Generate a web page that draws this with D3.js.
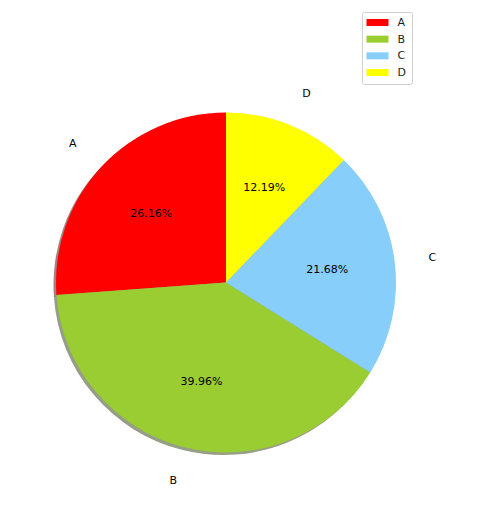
<!DOCTYPE html>
<html>
<head>
<meta charset="utf-8">
<script src="https://cdn.jsdelivr.net/npm/d3@7"></script>
<style>
  html, body { margin: 0; padding: 0; background: #fff; }
  svg { display: block; font-family: "DejaVu Sans", sans-serif; }
</style>
</head>
<body>
<svg id="chart" width="500" height="514"></svg>
<script>
const categories = ["A", "B", "C", "D"];
const values = [26.16, 39.96, 21.68, 12.19];
const colors = ["#ff0000", "#9acd32", "#87cefa", "#ffff00"];

const W = 500, H = 514;
const cx = 226, cy = 282.5, R = 170;
const svg = d3.select("#chart");

const data = categories.map((c, i) => ({ cat: c, value: values[i], color: colors[i] }));
const pie = d3.pie().value(d => d.value).sort(null).startAngle(0).endAngle(-2 * Math.PI);
const arcs = pie(data);
const arc = d3.arc().innerRadius(0).outerRadius(R);
const total = d3.sum(values);

const g = svg.append("g").attr("transform", `translate(${cx},${cy})`);

// shadows (drawn beneath all wedges)
g.append("g").attr("transform", "translate(-2.5,2.5)")
  .selectAll("path").data(arcs).join("path")
  .attr("d", arc)
  .attr("fill", d => { const c = d3.rgb(d.data.color); return d3.rgb(c.r * 0.3, c.g * 0.3, c.b * 0.3).toString(); })
  .attr("opacity", 0.5);

g.append("g").selectAll("path").data(arcs).join("path")
  .attr("d", arc)
  .attr("fill", d => d.data.color);

function pos(d, r) {
  const a = (d.startAngle + d.endAngle) / 2;
  return [r * Math.sin(a), -r * Math.cos(a)];
}

// outer labels
g.append("g").selectAll("text").data(arcs).join("text")
  .attr("x", d => pos(d, R * 1.2)[0])
  .attr("y", d => pos(d, R * 1.2)[1])
  .attr("text-anchor", d => pos(d, 1)[0] > 0 ? "start" : "end")
  .attr("dominant-baseline", "central")
  .attr("font-size", 11)
  .attr("fill", "#000")
  .text(d => d.data.cat);

// percentage labels
g.append("g").selectAll("text").data(arcs).join("text")
  .attr("x", d => pos(d, R * 0.6)[0])
  .attr("y", d => pos(d, R * 0.6)[1])
  .attr("text-anchor", "middle")
  .attr("dominant-baseline", "central")
  .attr("font-size", 11)
  .attr("fill", "#000")
  .text(d => (d.data.value / total * 100).toFixed(2) + "%");

// legend
const lg = svg.append("g").attr("transform", "translate(362.5,12.5)");
lg.append("rect").attr("width", 50).attr("height", 72).attr("rx", 2)
  .attr("fill", "#fff").attr("fill-opacity", 0.8).attr("stroke", "#d0d0d0").attr("stroke-width", 1);
const rowY = d3.scalePoint().domain(categories).range([10, 60]);
const items = lg.selectAll("g.item").data(data).join("g").attr("class", "item")
  .attr("transform", d => `translate(0,${rowY(d.cat)})`);
items.append("rect").attr("x", 4).attr("y", -3.5).attr("width", 22).attr("height", 7).attr("fill", d => d.color);
items.append("text").attr("x", 35).attr("y", 0).attr("dominant-baseline", "central")
  .attr("font-size", 11).attr("fill", "#222").text(d => d.cat);
</script>
</body>
</html>
